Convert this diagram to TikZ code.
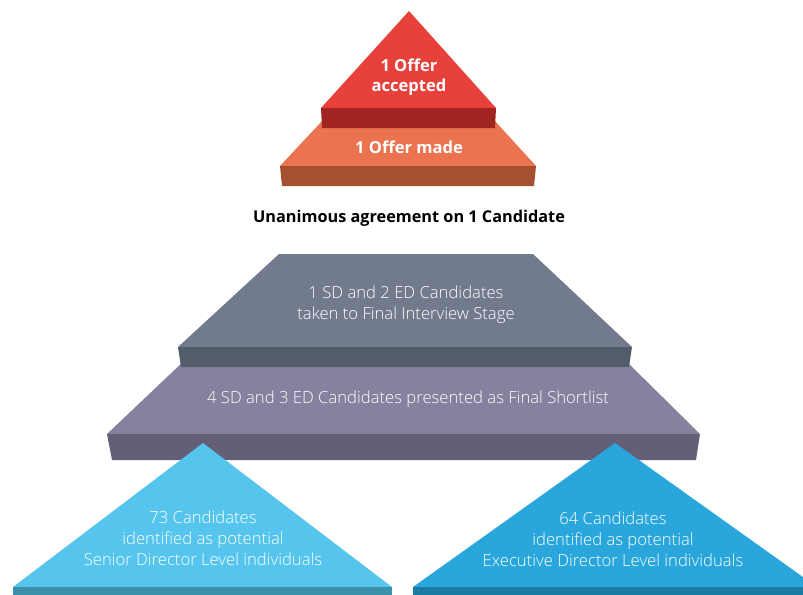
\documentclass[tikz,border=0pt]{standalone}
\usepackage{fontspec}
\setmainfont{Open Sans}
\newfontfamily\lightfont{Open Sans Light}

% face and side colours of the pyramid layers
\definecolor{redface}{HTML}{E8403A}
\definecolor{redband}{HTML}{A0241F}
\definecolor{orangeface}{HTML}{EC7350}
\definecolor{orangeband}{HTML}{A5502F}
\definecolor{grayface}{HTML}{727B8D}
\definecolor{grayband}{HTML}{535C6B}
\definecolor{purpleface}{HTML}{86819E}
\definecolor{purpleband}{HTML}{635F76}
\definecolor{skyface}{HTML}{55C5EE}
\definecolor{skyband}{HTML}{3C8FAA}
\definecolor{blueface}{HTML}{29A6DB}
\definecolor{blueband}{HTML}{1C7BA1}

\tikzset{
  boldlabel/.style={text=white, font=\bfseries\fontsize{12.4}{14.5}\selectfont, align=center, inner sep=0pt},
  lightlabel/.style={text=white, font=\lightfont\fontsize{12.5}{15.75}\selectfont, align=center, inner sep=0pt},
  headline/.style={text=black, font=\bfseries\fontsize{12.2}{14}\selectfont, inner sep=0pt}
}

\begin{document}
\begin{tikzpicture}[x=0.75pt,y=-0.75pt]
\useasboundingbox (0,0) rectangle (803,594);
\clip (0,0) rectangle (803,594);

% --- top pyramid: offer made / offer accepted
\fill[orangeface] (323,120) -- (494,120) -- (536,166) -- (280,166) -- cycle;
\fill[orangeband] (280,166) -- (536,166) -- (534,186) -- (282,186) -- cycle;
\fill[redface] (409,11) -- (496,108) -- (321,108) -- cycle;
\fill[redband] (321,108) -- (496,108) -- (495,128) -- (322,128) -- cycle;

\node[boldlabel] (accepted) at (409,77) {1 Offer\\accepted};
\node[boldlabel] (made) at (409,147) {1 Offer made};

\node[headline] (agreement) at (409,218) {Unanimous agreement on 1 Candidate};

% --- middle pyramid: shortlist and final interview
\fill[purpleface] (185,360) -- (625,360) -- (700,434) -- (107,434) -- cycle;
\fill[purpleband] (107,434) -- (700,434) -- (696,460) -- (112,460) -- cycle;
\fill[grayface] (279,254) -- (533,254) -- (632,347) -- (178,347) -- cycle;
\fill[grayband] (178,347) -- (632,347) -- (629,367) -- (181,367) -- cycle;

\node[lightlabel] (interview) at (406,305) {1 SD and 2 ED Candidates\\taken to Final Interview Stage};
\node[lightlabel] (shortlist) at (408,399) {4 SD and 3 ED Candidates presented as Final Shortlist};

% --- base: the two candidate pools
\fill[skyface] (203,443) -- (392,587) -- (13,587) -- cycle;
\fill[skyband] (13,587) -- (392,587) -- (392,600) -- (13,600) -- cycle;
\fill[blueface] (615,443) -- (817,587) -- (413,587) -- cycle;
\fill[blueband] (413,587) -- (817,587) -- (817,600) -- (413,600) -- cycle;

\node[lightlabel] (sdpool) at (203,538) {73 Candidates\\identified as potential\\Senior Director Level individuals};
\node[lightlabel] (edpool) at (613,539) {64 Candidates\\identified as potential\\Executive Director Level individuals};
\end{tikzpicture}
\end{document}
